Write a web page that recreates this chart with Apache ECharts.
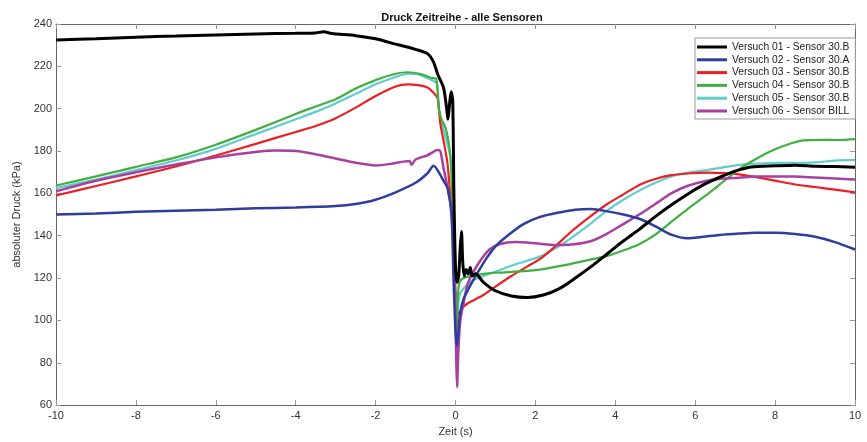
<!DOCTYPE html>
<html>
<head>
<meta charset="utf-8">
<script src="https://cdn.jsdelivr.net/npm/echarts@6/dist/echarts.min.js"></script>
<style>
html,body{margin:0;padding:0;background:#fff;}
#chart{width:867px;height:442px;}
</style>
</head>
<body>
<div id="chart"></div>
<script>
const seriesNames = [
  'Versuch 01 - Sensor 30.B',
  'Versuch 02 - Sensor 30.A',
  'Versuch 03 - Sensor 30.B',
  'Versuch 04 - Sensor 30.B',
  'Versuch 05 - Sensor 30.B',
  'Versuch 06 - Sensor BILL'
];
const xTicks = [-10, -8, -6, -4, -2, 0, 2, 4, 6, 8, 10];
const yTicks = [60, 80, 100, 120, 140, 160, 180, 200, 220, 240];

// [Zeit (s), Druck (kPa)]
const versuch01 = [[-10,232.5],[-9,233],[-8,233.8],[-7,234.3],[-6,234.8],[-5,235.3],[-4,235.6],[-3.5,235.8],[-3.3,236.3],[-3.1,235.5],[-2.5,234.5],[-2,233],[-1.5,230.5],[-1.0,228],[-0.7,226],[-0.55,222],[-0.44,216],[-0.3,210],[-0.22,200],[-0.19,195],[-0.15,202],[-0.11,208],[-0.07,204],[-0.04,160],[0,125],[0.04,118],[0.08,121],[0.12,135],[0.15,142],[0.18,128],[0.22,121],[0.27,124],[0.32,122],[0.37,125],[0.42,121],[0.5,122],[0.7,118],[1.0,114],[1.4,111.5],[1.8,110.8],[2.2,112],[2.6,115],[3.0,120],[3.4,125.5],[3.8,131.5],[4.2,137.5],[4.6,143],[5.0,149],[5.4,154.5],[5.8,159.5],[6.2,164],[6.6,167.5],[7.0,170.5],[7.4,172.5],[8,173],[8.5,173.3],[9,172.8],[9.5,172.7],[10,172.3]];
const versuch02 = [[-10,150],[-9,150.5],[-8,151.3],[-7,151.8],[-6,152.3],[-5,153],[-4,153.3],[-3,154],[-2.5,155],[-2,157],[-1.5,160.5],[-1,165],[-0.7,169.5],[-0.55,173],[-0.45,171],[-0.3,166],[-0.2,162.5],[-0.1,150],[-0.05,120],[0,95],[0.04,88],[0.08,97],[0.12,104],[0.2,110],[0.3,114],[0.4,117.5],[0.6,124],[0.8,130],[1.0,135],[1.3,140],[1.7,145.5],[2.1,148.8],[2.6,151],[3.0,152.3],[3.4,152.6],[3.8,151.5],[4.2,150],[4.6,148],[5.0,144.5],[5.4,140.5],[5.8,138.8],[6.2,139.5],[6.6,140.3],[7.1,141],[7.5,141.4],[8.0,141.4],[8.5,140.8],[9.0,139.5],[9.5,137],[10,133.5]];
const versuch03 = [[-10,159],[-9,163.5],[-8,168],[-7,172.7],[-6,177.9],[-5,183.4],[-4,189],[-3.5,191.8],[-3,195.5],[-2.5,200.5],[-2,206],[-1.5,210.5],[-1.2,211.5],[-0.9,211],[-0.7,210],[-0.55,207.5],[-0.45,205],[-0.38,193],[-0.3,185],[-0.2,174],[-0.1,150],[-0.03,125],[0.03,105],[0.1,103],[0.18,106],[0.3,108],[0.5,110],[0.7,112],[1.0,116],[1.4,121],[1.8,125.5],[2.1,128.8],[2.5,135],[2.9,142],[3.4,149.5],[3.8,155],[4.2,159.5],[4.6,164],[5.0,166.8],[5.4,168.6],[5.9,169.5],[6.3,169.8],[6.7,169.6],[7.1,169],[7.5,167.8],[8,166],[8.5,164.2],[9,163],[9.5,161.8],[10,160.5]];
const versuch04 = [[-10,163.7],[-9,168],[-8,172.5],[-7,177],[-6,183],[-5,190],[-4,197.5],[-3.5,201],[-3,204.5],[-2.5,209.5],[-2,213.5],[-1.5,216.5],[-1.2,217.2],[-0.9,216.5],[-0.6,214.5],[-0.48,214],[-0.42,200],[-0.35,195],[-0.25,191],[-0.18,185],[-0.12,176],[-0.06,150],[0,110],[0.03,96],[0.06,112],[0.1,118],[0.2,120],[0.4,121],[0.7,122],[1.0,122.5],[1.5,123],[2.1,124],[2.7,126],[3.2,128],[3.8,130.5],[4.2,133],[4.6,136],[5.0,140.5],[5.4,146.5],[5.8,152.5],[6.3,159.5],[6.7,165.5],[7.1,171.5],[7.5,176],[7.9,180],[8.3,183],[8.7,185],[9.2,185.3],[9.6,185.2],[10,185.6]];
const versuch05 = [[-10,162.5],[-9,166.5],[-8,171],[-7,175.5],[-6,181],[-5,188],[-4,195],[-3.5,198.5],[-3,202.5],[-2.5,207],[-2,211.5],[-1.5,215],[-1.2,216.5],[-0.9,216],[-0.6,213.5],[-0.47,212],[-0.4,198],[-0.3,190],[-0.2,183],[-0.12,176],[-0.06,145],[0,105],[0.03,97],[0.07,108],[0.12,113],[0.2,115],[0.4,118.5],[0.7,121],[1.0,123],[1.5,126.5],[2.1,130],[2.5,134],[2.9,139],[3.4,146],[3.8,152],[4.2,157],[4.6,161.3],[5.0,165],[5.4,168],[5.9,170],[6.3,171],[6.7,172.3],[7.1,173.5],[7.5,174],[8,174.4],[8.5,174.4],[9,174.6],[9.5,175.5],[10,175.8]];
const versuch06 = [[-10,161],[-9,166],[-8,170],[-7,173.6],[-6,177],[-5,179.5],[-4.5,180.2],[-4,180],[-3.5,178.5],[-3,176.5],[-2.5,174.5],[-2,173.2],[-1.6,174],[-1.3,175],[-1.15,175.3],[-1.1,173.5],[-1.0,176],[-0.7,178],[-0.45,180.5],[-0.38,180],[-0.3,172],[-0.2,163],[-0.12,155],[-0.06,149],[-0.02,120],[0.02,80],[0.04,68.5],[0.07,85],[0.12,100],[0.2,108],[0.3,117],[0.45,123],[0.65,129],[0.85,133.5],[1.1,136],[1.5,137],[2,136.4],[2.5,135.6],[2.9,135.8],[3.4,137.5],[3.8,141],[4.2,145.5],[4.6,150],[5.0,155],[5.4,160],[5.8,163.5],[6.3,166],[6.7,167],[7.1,167.4],[7.5,168],[8,168],[8.5,168],[9,167.5],[9.5,167],[10,166.5]];

const seriesData = [versuch01, versuch02, versuch03, versuch04, versuch05, versuch06];
const colors = ['#000000', '#2f3d9c', '#ec2024', '#40b040', '#62cccc', '#a8409f'];
const widths = [3, 2.5, 2.2, 2.2, 2.2, 2.5];
const zs = [8, 7, 4, 5, 3, 6];

const FONT = 'Liberation Sans, Arial, sans-serif';
const axisColor = '#666';

const chart = echarts.init(document.getElementById('chart'), null, {renderer: 'canvas'});
const baseX = {
  type: 'value', min: xTicks[0], max: xTicks[xTicks.length - 1], interval: 2,
  splitLine: {show: false},
  axisLine: {show: true, onZero: false, lineStyle: {color: axisColor, width: 1}},
  axisTick: {show: true, inside: true, length: 5, lineStyle: {color: '#999'}}
};
const baseY = {
  type: 'value', min: yTicks[0], max: yTicks[yTicks.length - 1], interval: 20,
  splitLine: {show: false},
  axisLine: {show: true, onZero: false, lineStyle: {color: axisColor, width: 1}},
  axisTick: {show: true, inside: true, length: 5, lineStyle: {color: '#999'}}
};

chart.setOption({
  animation: false,
  backgroundColor: '#ffffff',
  textStyle: {fontFamily: FONT},
  title: {
    text: 'Druck Zeitreihe - alle Sensoren',
    left: 457, top: 7, textAlign: 'center',
    textStyle: {fontSize: 11, fontWeight: 'bold', color: '#111', fontFamily: FONT}
  },
  legend: {
    orient: 'vertical', left: 695, top: 38,
    backgroundColor: '#fff', borderColor: '#999', borderWidth: 1,
    padding: [3, 6, 2, 2], itemGap: 0.8, itemWidth: 30, itemHeight: 3,
    icon: 'rect',
    textStyle: {fontSize: 10.3, lineHeight: 12, color: '#222', fontFamily: FONT},
    data: seriesNames
  },
  grid: {left: 56, right: 12, top: 24, bottom: 31, containLabel: false},
  xAxis: [
    Object.assign({}, baseX, {
      position: 'bottom',
      name: 'Zeit (s)', nameLocation: 'middle', nameGap: 19,
      nameTextStyle: {fontSize: 11, color: '#333', fontFamily: FONT},
      axisLabel: {fontSize: 11, color: '#333', margin: 5, fontFamily: FONT}
    }),
    Object.assign({}, baseX, {position: 'top', axisLabel: {show: false}})
  ],
  yAxis: [
    Object.assign({}, baseY, {
      position: 'left',
      name: 'absoluter Druck (kPa)', nameLocation: 'middle', nameGap: 32,
      nameTextStyle: {fontSize: 11, color: '#333', fontFamily: FONT},
      axisLabel: {fontSize: 11, color: '#333', margin: 4, fontFamily: FONT}
    }),
    Object.assign({}, baseY, {position: 'right', axisLabel: {show: false}})
  ],
  series: seriesData.map((d, i) => ({
    name: seriesNames[i],
    type: 'line',
    xAxisIndex: 0, yAxisIndex: 0,
    data: d,
    symbol: 'none',
    showSymbol: false,
    smooth: 0.25,
    z: zs[i],
    lineStyle: {color: colors[i], width: widths[i]},
    itemStyle: {color: colors[i]}
  }))
});
</script>
</body>
</html>
